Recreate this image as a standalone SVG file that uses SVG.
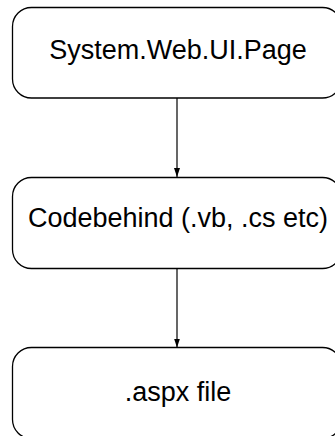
<svg xmlns="http://www.w3.org/2000/svg" width="335" height="436" viewBox="0 0 335 436">
  <style>
    .box { fill: #ffffff; stroke: #000000; stroke-width: 1.3; }
    .label { font-family: "Liberation Sans", Arial, sans-serif; font-size: 27px; fill: #000000; text-anchor: middle; }
    .edge { stroke: #000000; stroke-width: 1.2; fill: none; marker-end: url(#arrow); }
  </style>
  <defs>
    <!-- filled triangular head, tip at the end of the line -->
    <marker id="arrow" viewBox="0 0 9 6" markerWidth="9" markerHeight="6" refX="9" refY="3" orient="auto" markerUnits="userSpaceOnUse">
      <path d="M0,0 L9,3 L0,6 Z" fill="#000000"/>
    </marker>
  </defs>
  <rect width="335" height="436" fill="#ffffff"/>

  <g id="connectors">
    <line class="edge" x1="177" y1="98" x2="177" y2="177"/>
    <line class="edge" x1="177" y1="268.5" x2="177" y2="347.5"/>
  </g>

  <g id="node-page">
    <rect class="box" x="12.5" y="7.5" width="329" height="90.5" rx="19" ry="19"/>
    <text class="label" x="178" y="58.5">System.Web.UI.Page</text>
  </g>

  <g id="node-codebehind">
    <rect class="box" x="12.5" y="177.5" width="329" height="91" rx="19" ry="19"/>
    <text class="label" x="178" y="227">Codebehind (.vb, .cs etc)</text>
  </g>

  <g id="node-aspx">
    <rect class="box" x="12.5" y="347.5" width="329" height="91" rx="19" ry="19"/>
    <text class="label" x="178" y="401">.aspx file</text>
  </g>
</svg>
